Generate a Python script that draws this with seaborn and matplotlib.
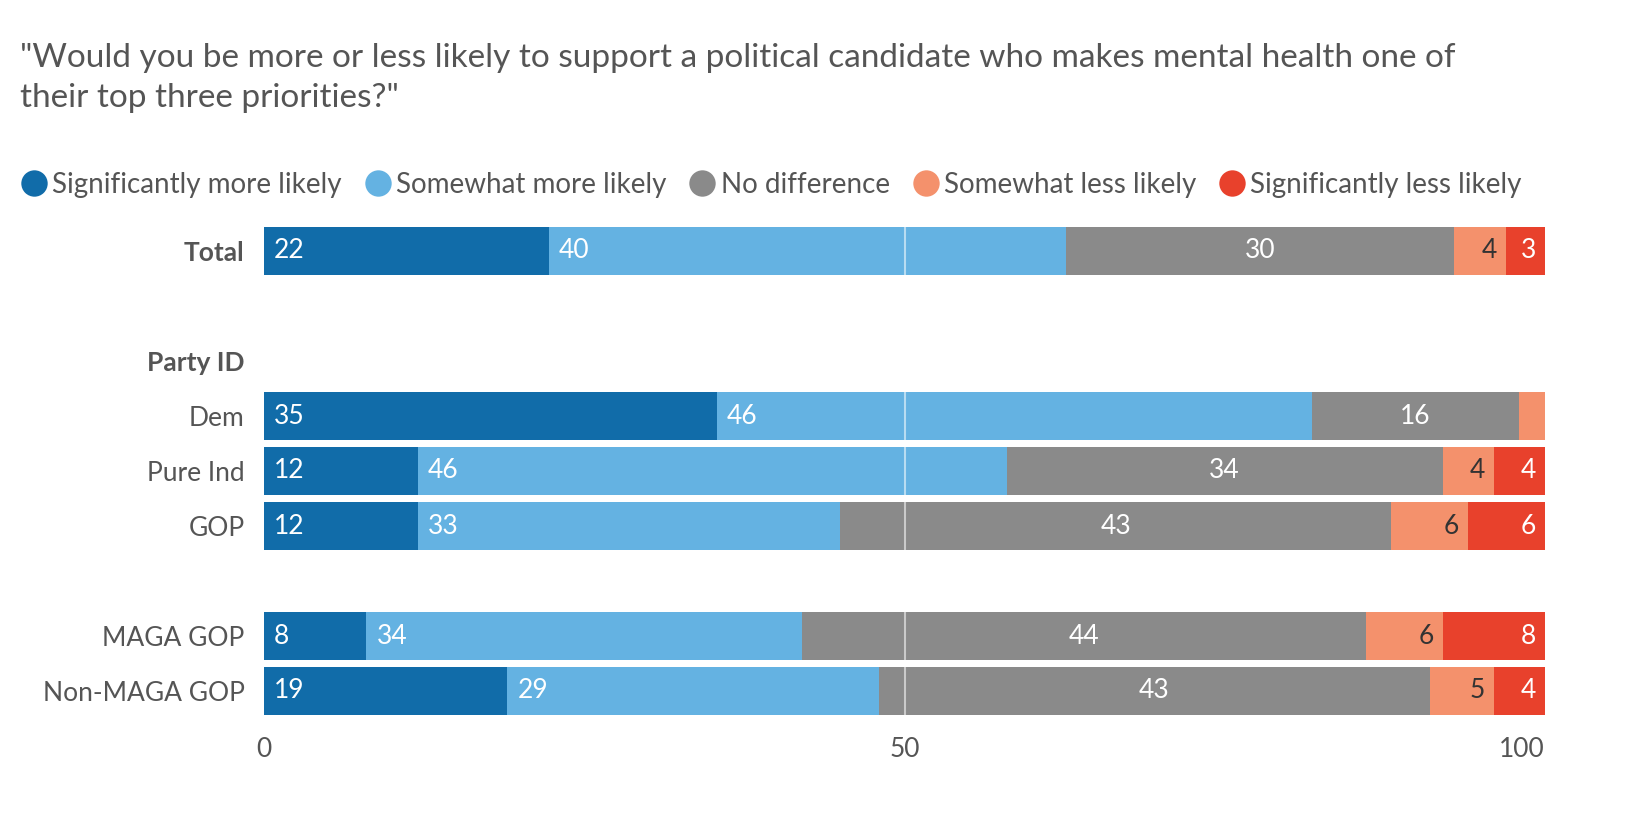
import numpy as np
import pandas as pd
import seaborn as sns
import matplotlib.pyplot as plt
from matplotlib.lines import Line2D

# data
groups = ["Total", "Dem", "Pure Ind", "GOP", "MAGA GOP", "Non-MAGA GOP"]
sig_more = [22, 35, 12, 12, 8, 19]
some_more = [40, 46, 46, 33, 34, 29]
no_diff = [30, 16, 34, 43, 44, 43]
some_less = [4, 2, 4, 6, 6, 5]
sig_less = [3, 0, 4, 6, 8, 4]

series = ["Significantly more likely", "Somewhat more likely", "No difference",
          "Somewhat less likely", "Significantly less likely"]
colors = ["#116ca9", "#64b2e2", "#8a8a8a", "#f4916c", "#e8412c"]
label_colors = ["white", "white", "white", "#333333", "white"]

# row layout: blank rows and a header row in between
row_order = ["Total", "_gap1", "Party ID", "Dem", "Pure Ind", "GOP", "_gap2",
             "MAGA GOP", "Non-MAGA GOP"]
bold_rows = ["Total", "Party ID"]

df = pd.DataFrame({"group": groups, series[0]: sig_more, series[1]: some_more,
                   series[2]: no_diff, series[3]: some_less, series[4]: sig_less})
vals = df[series].astype(float)
df_norm = vals.div(vals.sum(axis=1), axis=0) * 100
cum = df_norm.cumsum(axis=1)
cum["group"] = df["group"]

sns.set_theme(style="white")
plt.rcParams["font.family"] = ["Lato", "DejaVu Sans"]
text_col = "#555555"
fs = 19

fig = plt.figure(figsize=(16.52, 8.16), dpi=100)
ax = fig.add_axes([264 / 1652, 1 - 718.5 / 816, (1545 - 264) / 1652, (718.5 - 223.5) / 816])

# stacked bars: draw cumulative totals from the last series back to the first
for i in range(len(series) - 1, -1, -1):
    sns.barplot(data=cum, x=series[i], y="group", order=row_order, orient="h",
                color=colors[i], width=0.855, linewidth=0, saturation=1, ax=ax)

ax.axvline(50, color="white", alpha=0.55, lw=1.5, zorder=5)

# value labels
ypos = {g: row_order.index(g) for g in groups}
unit = 100 / (1545 - 264)
for r, g in enumerate(groups):
    start = 0
    for i, s in enumerate(series):
        w = df_norm.loc[r, s]
        v = df.loc[r, s]
        end = start + w
        if v >= 3:
            if i < 2:
                x, ha = start + 10 * unit, "left"
            elif i == 2:
                x, ha = (start + end) / 2, "center"
            else:
                x, ha = end - 9 * unit, "right"
            ax.text(x, ypos[g], str(v), ha=ha, va="center", color=label_colors[i],
                    fontsize=fs, zorder=6)
        start = end

ax.set_xlim(0, 100)
ax.set_ylim(len(row_order) - 0.5, -0.5)
ax.set_xlabel("")
ax.set_ylabel("")
ax.set_xticks([0, 50, 100])
ax.set_xticklabels(["0", "50", "100"], fontsize=fs, color=text_col)
ax.get_xticklabels()[-1].set_ha("right")
ax.tick_params(axis="x", length=0, pad=13)
ax.set_yticks(range(len(row_order)))
ax.set_yticklabels(["" if r.startswith("_") else r for r in row_order],
                   fontsize=fs, color=text_col)
for lab in ax.get_yticklabels():
    if lab.get_text() in bold_rows:
        lab.set_fontweight("bold")
ax.tick_params(axis="y", length=0, pad=14)
sns.despine(ax=ax, left=True, bottom=True)

# title
fig.text(20 / 1652, 1 - 43 / 816,
         "\"Would you be more or less likely to support a political candidate who makes mental health one of\ntheir top three priorities?\"",
         ha="left", va="top", fontsize=24, color=text_col, linespacing=1.42)

# legend
handles = [Line2D([], [], marker="o", ls="", markersize=19, markerfacecolor=c,
                  markeredgewidth=0) for c in colors]
fig.legend(handles, series, loc="center left", bbox_to_anchor=(19 / 1652, 1 - 185 / 816),
           ncol=5, frameon=False, fontsize=20, labelcolor=text_col,
           handletextpad=0.1, columnspacing=0.75, handlelength=1.1, borderpad=0,
           borderaxespad=0)

fig.savefig("out.png", dpi=100)
